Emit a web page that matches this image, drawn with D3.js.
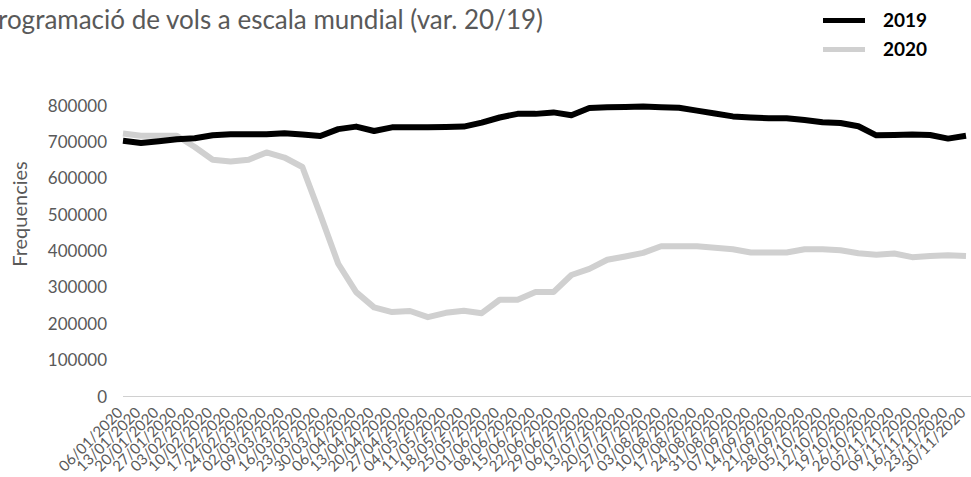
<!DOCTYPE html>
<html>
<head>
<meta charset="utf-8">
<script src="https://cdn.jsdelivr.net/npm/d3@7"></script>
<style>
  body { margin: 0; background: #fff; }
  svg { font-family: Lato, "Open Sans", sans-serif; }
</style>
</head>
<body>
<div id="chart"></div>
<script>
// weekly dates (x categories)
const dates = ["06/01/2020","13/01/2020","20/01/2020","27/01/2020","03/02/2020","10/02/2020","17/02/2020","24/02/2020",
  "02/03/2020","09/03/2020","16/03/2020","23/03/2020","30/03/2020","06/04/2020","13/04/2020","20/04/2020",
  "27/04/2020","04/05/2020","11/05/2020","18/05/2020","25/05/2020","01/06/2020","08/06/2020","15/06/2020",
  "22/06/2020","29/06/2020","06/07/2020","13/07/2020","20/07/2020","27/07/2020","03/08/2020","10/08/2020",
  "17/08/2020","24/08/2020","31/08/2020","07/09/2020","14/09/2020","21/09/2020","28/09/2020","05/10/2020",
  "12/10/2020","19/10/2020","26/10/2020","02/11/2020","09/11/2020","16/11/2020","23/11/2020","30/11/2020"];

const values2019 = [703000,697000,702000,707000,710000,718000,721000,721000,721000,724000,720000,716000,
  735000,742000,730000,740000,740000,740000,741000,742000,753000,767000,777000,777000,
  781000,773000,793000,795000,796000,797000,795000,794000,786000,778000,770000,767000,
  765000,765000,760000,754000,752000,743000,718000,719000,720000,719000,709000,717000];

const values2020 = [723000,717000,717000,717000,686000,651000,646000,651000,671000,657000,631000,500000,
  365000,287000,245000,232000,235000,218000,230000,236000,229000,266000,266000,287000,
  287000,334000,351000,376000,385000,395000,413000,413000,413000,409000,405000,396000,
  396000,396000,405000,405000,402000,394000,390000,393000,383000,386000,388000,386000];

const yTicks = [0,100000,200000,300000,400000,500000,600000,700000,800000];

const series = [
  {name: "2019", values: values2019, color: "#000000"},
  {name: "2020", values: values2020, color: "#d0d0d0"}
];

const width = 971, height = 477;
const svg = d3.select("#chart").append("svg")
  .attr("width", width)
  .attr("height", height);

// scales
const x = d3.scalePoint().domain(dates).range([123, 966]);
const y = d3.scaleLinear().domain([0, 800000]).range([396.5, 105.5]);

// title (cropped on the left like the original)
svg.append("text")
  .attr("x", 543).attr("y", 29)
  .attr("text-anchor", "end")
  .attr("font-size", 26)
  .attr("fill", "#595959")
  .text("Programació de vols a escala mundial (var. 20/19)");

// y axis labels
svg.selectAll(".ytick").data(yTicks).enter()
  .append("text")
  .attr("class", "ytick")
  .attr("x", 107)
  .attr("y", d => y(d))
  .attr("dy", "0.36em")
  .attr("text-anchor", "end")
  .attr("font-size", 17)
  .attr("fill", "#595959")
  .text(d => d);

svg.append("text")
  .attr("transform", "translate(27,214) rotate(-90)")
  .attr("text-anchor", "middle")
  .attr("font-size", 20)
  .attr("fill", "#595959")
  .text("Frequencies");

// x axis line
svg.append("line")
  .attr("x1", 123).attr("x2", width)
  .attr("y1", y(0)).attr("y2", y(0))
  .attr("stroke", "#d0d0d0")
  .attr("stroke-width", 1);

// x labels
svg.selectAll(".xtick").data(dates).enter()
  .append("text")
  .attr("class", "xtick")
  .attr("transform", d => "translate(" + (x(d) - 3) + ",410) rotate(-45)")
  .attr("text-anchor", "end")
  .attr("dy", "0.35em")
  .attr("font-size", 15)
  .attr("fill", "#595959")
  .text(d => d);

// lines
const line = d3.line()
  .x((d, i) => x(dates[i]))
  .y(d => y(d));

svg.selectAll(".series").data(series.slice().reverse()).enter()
  .append("path")
  .attr("class", "series")
  .attr("d", d => line(d.values))
  .attr("fill", "none")
  .attr("stroke", d => d.color)
  .attr("stroke-width", 6)
  .attr("stroke-linejoin", "round");

// legend
const legend = svg.selectAll(".legend").data(series).enter()
  .append("g")
  .attr("class", "legend")
  .attr("transform", (d, i) => "translate(823," + (20.5 + i * 29) + ")");

legend.append("line")
  .attr("x1", 0).attr("x2", 42)
  .attr("stroke", d => d.color)
  .attr("stroke-width", 5);

legend.append("text")
  .attr("x", 60)
  .attr("dy", "0.36em")
  .attr("font-size", 19)
  .attr("font-weight", "bold")
  .attr("fill", "#000")
  .text(d => d.name);
</script>
</body>
</html>
